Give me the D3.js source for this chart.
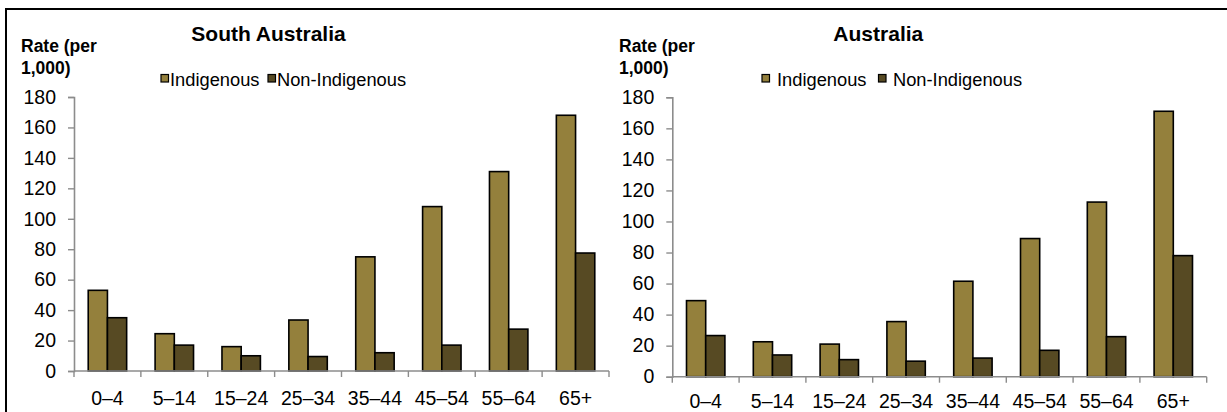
<!DOCTYPE html>
<html>
<head>
<meta charset="utf-8">
<script src="https://cdn.jsdelivr.net/npm/d3@7"></script>
<style>
  html, body { margin: 0; padding: 0; background: #fff; }
  svg { display: block; font-family: "Liberation Sans", Arial, sans-serif; }
</style>
</head>
<body>
<svg id="chart" width="1227" height="412"></svg>
<script>
const categories = ["0–4", "5–14", "15–24", "25–34", "35–44", "45–54", "55–64", "65+"];
const seriesNames = ["Indigenous", "Non-Indigenous"];
const saIndigenous = [53, 24.5, 16, 33.5, 75, 108, 131, 168];
const saNonIndigenous = [35, 17, 10, 9.5, 12, 17, 27.5, 77.5];
const ausIndigenous = [49, 22.5, 21, 35.5, 61.5, 89, 112.5, 171];
const ausNonIndigenous = [26.5, 14, 11, 10, 12, 17, 25.8, 78];
const yTicks = [0, 20, 40, 60, 80, 100, 120, 140, 160, 180];
const titles = ["South Australia", "Australia"];
const yLabelLines = ["Rate (per", "1,000)"];
const colors = { "Indigenous": "#94803c", "Non-Indigenous": "#574a23" };

const svg = d3.select("#chart");

// frame lines
svg.append("rect").attr("x", 5).attr("y", 8).attr("width", 1222).attr("height", 2).attr("fill", "#000");
svg.append("rect").attr("x", 5).attr("y", 8).attr("width", 2).attr("height", 404).attr("fill", "#000");

const panels = [
  { title: titles[0], ind: saIndigenous, non: saNonIndigenous,
    x0: 74, x1: 609, y0: 371, y1: 97, titleX: 268.5, ylabX: 21,
    legend: [{sq: 161, tx: 170}, {sq: 268, tx: 277}], xLabelDy: 20 },
  { title: titles[1], ind: ausIndigenous, non: ausNonIndigenous,
    x0: 672.3, x1: 1206.7, y0: 376.7, y1: 97.3, titleX: 878.3, ylabX: 619,
    legend: [{sq: 762, tx: 777}, {sq: 878.5, tx: 893}], xLabelDy: 17.5 }
];

panels.forEach(p => {
  const g = svg.append("g");
  const xBand = d3.scaleBand().domain(categories).range([p.x0, p.x1]).padding(0);
  const xInner = d3.scaleBand().domain(seriesNames).range([0, xBand.bandwidth()])
    .paddingInner(0).paddingOuter(0.74);
  const y = d3.scaleLinear().domain([0, 180]).range([p.y0, p.y1]);

  // title
  g.append("text").attr("x", p.titleX).attr("y", 41).attr("text-anchor", "middle")
    .attr("font-size", 21).attr("font-weight", "bold").attr("fill", "#000").text(p.title);

  // y label
  yLabelLines.forEach((t, i) => {
    g.append("text").attr("x", p.ylabX).attr("y", 52 + i * 22)
      .attr("font-size", 17.5).attr("font-weight", "bold").attr("fill", "#000").text(t);
  });

  // legend
  seriesNames.forEach((s, i) => {
    const L = p.legend[i];
    g.append("rect").attr("x", L.sq).attr("y", 74.5).attr("width", 7.5).attr("height", 7.5)
      .attr("fill", colors[s]).attr("stroke", "#000").attr("stroke-width", 1.2);
    g.append("text").attr("x", L.tx).attr("y", 86).attr("font-size", 18.3)
      .attr("fill", "#000").text(s);
  });

  // y axis
  const yAxis = d3.axisLeft(y).tickValues(yTicks).tickSize(6).tickPadding(12).tickFormat(d3.format("d"));
  const ya = g.append("g").attr("transform", `translate(${p.x0},0)`).call(yAxis);
  ya.select(".domain").attr("stroke", "#8c8c8c").attr("stroke-width", 1.6);
  ya.selectAll(".tick line").attr("stroke", "#8c8c8c").attr("stroke-width", 1.4);
  ya.selectAll(".tick text").attr("font-size", 19.5).attr("fill", "#000")
    .attr("font-family", "Liberation Sans, Arial, sans-serif");

  // bars
  const data = categories.map((c, i) => ({ cat: c, vals: [
    { s: seriesNames[0], v: p.ind[i] }, { s: seriesNames[1], v: p.non[i] } ] }));
  const groups = g.append("g").selectAll("g").data(data).join("g")
    .attr("transform", d => `translate(${xBand(d.cat)},0)`);
  groups.selectAll("rect").data(d => d.vals).join("rect")
    .attr("x", d => xInner(d.s))
    .attr("y", d => y(d.v))
    .attr("width", xInner.bandwidth())
    .attr("height", d => y(0) - y(d.v))
    .attr("fill", d => colors[d.s])
    .attr("stroke", "#000").attr("stroke-width", 1.6);

  // x axis
  const xAxis = d3.axisBottom(xBand).tickSize(0).tickPadding(p.xLabelDy);
  const xa = g.append("g").attr("transform", `translate(0,${p.y0})`).call(xAxis);
  xa.select(".domain").remove();
  xa.selectAll(".tick text").attr("font-size", 19.5).attr("fill", "#000")
    .attr("font-family", "Liberation Sans, Arial, sans-serif");
  g.append("line").attr("x1", p.x0).attr("x2", p.x1).attr("y1", p.y0).attr("y2", p.y0)
    .attr("stroke", "#8c8c8c").attr("stroke-width", 1.6);
  const bounds = categories.map(c => xBand(c)).concat([xBand.range()[1]]);
  g.append("g").selectAll("line").data(bounds).join("line")
    .attr("x1", d => d).attr("x2", d => d).attr("y1", p.y0).attr("y2", p.y0 + 6)
    .attr("stroke", "#8c8c8c").attr("stroke-width", 1.4);
});
</script>
</body>
</html>
